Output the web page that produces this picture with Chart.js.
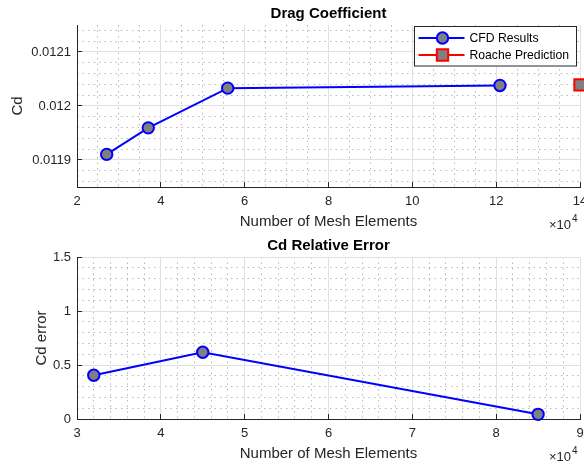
<!DOCTYPE html>
<html><head><meta charset="utf-8">
<script src="https://cdn.jsdelivr.net/npm/chart.js@4/dist/chart.umd.min.js"></script>
<style>
html,body{margin:0;padding:0;background:#fff;}
#wrap{position:relative;width:584px;height:465px;overflow:hidden;}
canvas{position:absolute;left:0;}
</style></head><body>
<div id="wrap">
<canvas id="c1" width="596" height="232" style="top:0"></canvas>
<canvas id="c2" width="596" height="233" style="top:232px"></canvas>
</div>
<script>
// ---- data ----
const meshElements = [27080, 37000, 55950, 120900];
const cdValues = [0.0119104, 0.0119595, 0.0120331, 0.0120381];
const roacheMesh = [140000];
const roacheCd = [0.012039];
const errorMesh = [32000, 45000, 85000];
const cdError = [0.405, 0.618, 0.043];

// ---- ticks ----
const topXTicks = [20000, 40000, 60000, 80000, 100000, 120000, 140000];
const topXLabels = ['2', '4', '6', '8', '10', '12', '14'];
const topYTicks = [0.0119, 0.012, 0.0121];
const topYLabels = ['0.0119', '0.012', '0.0121'];
const botXTicks = [30000, 40000, 50000, 60000, 70000, 80000, 90000];
const botXLabels = ['3', '4', '5', '6', '7', '8', '9'];
const botYTicks = [0, 0.5, 1, 1.5];
const botYLabels = ['0', '0.5', '1', '1.5'];

Chart.defaults.font.family = "'Liberation Sans', Arial, Helvetica, sans-serif";
Chart.defaults.color = '#262626';

const AXIS = '#262626';
const MAJOR = '#e0e0e0';
const MINOR = '#bababa';

function minorTicks(min, max, step, majors) {
  const out = [];
  const start = Math.ceil(min / step - 1e-9);
  for (let k = start; k * step <= max + step * 1e-6; k++) {
    const v = k * step;
    if (v <= min + step * 1e-6 || v >= max - step * 1e-6) continue;
    if (majors.some(m => Math.abs(m - v) < step * 1e-3)) continue;
    out.push({value: v});
  }
  return out;
}

const tickPlugin = {
  id: 'inTicks',
  beforeDatasetsDraw(chart) {
    const {ctx, chartArea: a, scales: {x, y}} = chart;
    ctx.save();
    ctx.strokeStyle = AXIS;
    ctx.lineWidth = 1;
    ctx.beginPath();
    x.ticks.forEach(t => {
      const px = Math.round(x.getPixelForValue(t.value) - 0.5) + 0.5;
      ctx.moveTo(px, a.bottom); ctx.lineTo(px, a.bottom - 5);
    });
    y.ticks.forEach(t => {
      const py = Math.round(y.getPixelForValue(t.value) - 0.5) + 0.5;
      ctx.moveTo(a.left, py); ctx.lineTo(a.left + 5, py);
    });
    ctx.stroke();
    ctx.restore();
  }
};

const expPlugin = {
  id: 'expLabel',
  afterDraw(chart) {
    const {ctx, chartArea: a} = chart;
    ctx.save();
    ctx.fillStyle = AXIS;
    ctx.textBaseline = 'alphabetic';
    ctx.textAlign = 'right';
    ctx.font = "13px 'Liberation Sans', Arial, sans-serif";
    ctx.fillText('\u00d710', a.right - 9, a.bottom + 42);
    ctx.font = "10px 'Liberation Sans', Arial, sans-serif";
    ctx.textAlign = 'left';
    ctx.fillText('4', a.right - 8, a.bottom + 35);
    ctx.restore();
  }
};

function drawMarker(ctx, style, x, y, r, fill, stroke, bw) {
  ctx.beginPath();
  if (style === 'rect') {
    const s = r * Math.SQRT1_2;
    ctx.rect(x - s, y - s, 2 * s, 2 * s);
  } else {
    ctx.arc(x, y, r, 0, Math.PI * 2);
  }
  ctx.fillStyle = fill; ctx.fill();
  ctx.lineWidth = bw; ctx.strokeStyle = stroke; ctx.stroke();
}

const legendPlugin = {
  id: 'mLegend',
  afterDraw(chart) {
    const {ctx} = chart;
    const x0 = 414.5, y0 = 26.5, w = 162, h = 39.5;
    ctx.save();
    ctx.fillStyle = '#fff';
    ctx.fillRect(x0, y0, w, h);
    ctx.strokeStyle = AXIS; ctx.lineWidth = 1;
    ctx.strokeRect(x0, y0, w, h);
    const rows = [38, 55];
    chart.data.datasets.forEach((ds, i) => {
      const yy = rows[i];
      ctx.beginPath();
      ctx.strokeStyle = ds.borderColor; ctx.lineWidth = 2;
      ctx.moveTo(x0 + 4, yy); ctx.lineTo(x0 + 50, yy); ctx.stroke();
      drawMarker(ctx, ds.pointStyle, x0 + 28, yy, ds.pointRadius, ds.pointBackgroundColor, ds.pointBorderColor, ds.pointBorderWidth);
      ctx.fillStyle = '#000';
      ctx.font = "12.2px 'Liberation Sans', Arial, sans-serif";
      ctx.textAlign = 'left'; ctx.textBaseline = 'middle';
      ctx.fillText(ds.label, x0 + 55, yy + 0.5);
    });
    ctx.restore();
  }
};

function makeChart(id, cfg) {
  const xAxis = {
    type: 'linear', position: 'bottom', min: cfg.xMin, max: cfg.xMax,
    afterBuildTicks: s => { s.ticks = cfg.xTicks.map(v => ({value: v})); },
    ticks: {callback: (v, i) => cfg.xLabels[i], font: {size: 13}, color: AXIS, padding: 7, maxRotation: 0, autoSkip: false},
    grid: {color: MAJOR, lineWidth: 1, drawTicks: false},
    border: {display: true, color: AXIS, width: 1},
    title: {display: true, text: 'Number of Mesh Elements', font: {size: 15}, color: AXIS, padding: {top: 0, bottom: cfg.xTitlePad}},
    afterFit: s => { s.height = cfg.xH; s.paddingLeft = 0; s.paddingRight = 0; }
  };
  const yAxis = {
    type: 'linear', position: 'left', min: cfg.yMin, max: cfg.yMax,
    afterBuildTicks: s => { s.ticks = cfg.yTicks.map(v => ({value: v})); },
    ticks: {callback: (v, i) => cfg.yLabels[i], font: {size: 13}, color: AXIS, padding: 6},
    grid: {color: MAJOR, lineWidth: 1, drawTicks: false},
    border: {display: true, color: AXIS, width: 1},
    title: {display: true, text: cfg.yTitle, font: {size: 15}, color: AXIS, padding: {top: cfg.yTitlePad, bottom: 0}},
    afterFit: s => { s.width = 77; s.paddingTop = 0; s.paddingBottom = 0; }
  };
  const xMinor = {
    type: 'linear', position: 'bottom', min: cfg.xMin, max: cfg.xMax,
    afterBuildTicks: s => { s.ticks = minorTicks(cfg.xMin, cfg.xMax, cfg.xMinorStep, cfg.xTicks); },
    ticks: {display: false},
    grid: {color: MINOR, lineWidth: 1, drawTicks: false},
    border: {display: false, dash: [1.5, 4]},
    afterFit: s => { s.height = 0; s.paddingLeft = 0; s.paddingRight = 0; }
  };
  const yMinor = {
    type: 'linear', position: 'left', min: cfg.yMin, max: cfg.yMax,
    afterBuildTicks: s => { s.ticks = minorTicks(cfg.yMin, cfg.yMax, cfg.yMinorStep, cfg.yTicks); },
    ticks: {display: false},
    grid: {color: MINOR, lineWidth: 1, drawTicks: false},
    border: {display: false, dash: [1.5, 4]},
    afterFit: s => { s.width = 0; s.paddingTop = 0; s.paddingBottom = 0; }
  };
  return new Chart(document.getElementById(id), {
    type: 'scatter',
    data: {datasets: cfg.datasets},
    options: {
      responsive: false, animation: false, devicePixelRatio: 1,
      layout: {padding: {left: 0, right: 16, top: 0, bottom: 0}},
      plugins: {
        legend: {display: false}, tooltip: {enabled: false},
        title: {display: true, text: cfg.title, fullSize: false, color: '#000',
          font: {size: 15, weight: 'bold'}, padding: {top: 5, bottom: 2}}
      },
      scales: {xMinor, yMinor, x: xAxis, y: yAxis}
    },
    plugins: cfg.plugins
  });
}

const cfdDataset = (xs, ys) => ({
  label: 'CFD Results',
  data: xs.map((x, i) => ({x, y: ys[i]})),
  showLine: true, borderColor: '#0000ff', borderWidth: 2,
  pointStyle: 'circle', pointRadius: 5.7, pointBackgroundColor: '#808080',
  pointBorderColor: '#0000ff', pointBorderWidth: 2, clip: false,
  xAxisID: 'x', yAxisID: 'y'
});

makeChart('c1', {
  title: 'Drag Coefficient', yTitle: 'Cd', yTitlePad: 9, xTitlePad: 1, xH: 45,
  xMin: 20000, xMax: 140000, xTicks: topXTicks, xLabels: topXLabels, xMinorStep: 5000,
  yMin: 0.01185, yMax: 0.01215, yTicks: topYTicks, yLabels: topYLabels, yMinorStep: 0.00002,
  datasets: [
    cfdDataset(meshElements, cdValues),
    {
      label: 'Roache Prediction',
      data: roacheMesh.map((x, i) => ({x, y: roacheCd[i]})),
      showLine: true, borderColor: '#ff0000', borderWidth: 2,
      pointStyle: 'rect', pointRadius: 8, pointBackgroundColor: '#808080',
      pointBorderColor: '#ff0000', pointBorderWidth: 2, clip: false,
      xAxisID: 'x', yAxisID: 'y'
    }
  ],
  plugins: [tickPlugin, expPlugin, legendPlugin]
});

makeChart('c2', {
  title: 'Cd Relative Error', yTitle: 'Cd error', yTitlePad: 33, xTitlePad: 2, xH: 46,
  xMin: 30000, xMax: 90000, xTicks: botXTicks, xLabels: botXLabels, xMinorStep: 2000,
  yMin: 0, yMax: 1.5, yTicks: botYTicks, yLabels: botYLabels, yMinorStep: 0.1,
  datasets: [cfdDataset(errorMesh, cdError)],
  plugins: [tickPlugin, expPlugin]
});
</script>
</body></html>
